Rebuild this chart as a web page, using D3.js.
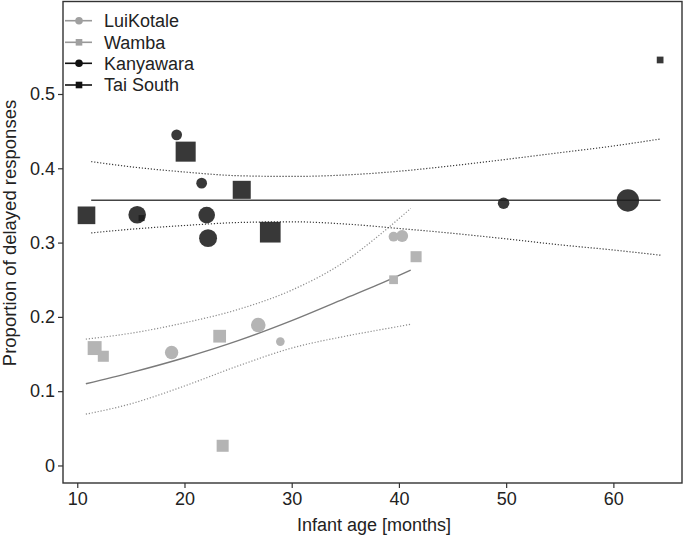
<!DOCTYPE html>
<html>
<head>
<meta charset="utf-8">
<script src="https://cdn.jsdelivr.net/npm/d3@7"></script>
<style>
  html, body { margin: 0; padding: 0; background: #fff; }
  svg { display: block; font-family: "Liberation Sans", Arial, Helvetica, sans-serif; }
</style>
</head>
<body>
<svg id="chart" width="685" height="548"></svg>
<script>
// ---------------- data ----------------
// Kanyawara (black circles)
const kanyAge   = [19.27, 21.6, 15.59, 22.07, 22.2, 49.76, 61.35];
const kanyProp  = [0.445, 0.380, 0.3375, 0.337, 0.306, 0.353, 0.3567];
const kanyN     = [20, 20, 54, 48, 56, 23, 87];
// Tai South (black squares)
const taiAge    = [10.86, 20.11, 25.34, 28.0, 16.0, 64.36];
const taiProp   = [0.3367, 0.4224, 0.371, 0.314, 0.333, 0.5458];
const taiN      = [69, 89, 72, 95, 8, 10];
// LuiKotale (grey circles)
const luiAge    = [39.5, 40.3, 26.88, 28.94, 18.8];
const luiProp   = [0.308, 0.309, 0.189, 0.1667, 0.152];
const luiN      = [17, 25, 37, 13, 31];
// Wamba (grey squares)
const wamAge    = [41.6, 39.5, 23.28, 23.56, 11.62, 12.43];
const wamProp   = [0.281, 0.25, 0.174, 0.0265, 0.158, 0.147];
const wamN      = [27, 17, 36, 32, 43, 27];

// Chimpanzee fit (flat) with confidence band
const chimpFitAge = [11.3, 15, 20, 25, 30, 35, 40, 45, 50, 55, 60, 64.4];
const chimpFit    = [0.357, 0.357, 0.357, 0.357, 0.357, 0.357, 0.357, 0.357, 0.357, 0.357, 0.357, 0.357];
const chimpUpper  = [0.409, 0.402, 0.395, 0.390, 0.389, 0.391, 0.396, 0.4035, 0.412, 0.421, 0.430, 0.4395];
const chimpLower  = [0.313, 0.318, 0.323, 0.327, 0.328, 0.325, 0.319, 0.3125, 0.305, 0.297, 0.290, 0.283];

// Bonobo fit with confidence band
const bonoFitAge = [10.8, 15, 20, 25, 30, 35, 38, 41.1];
const bonoFit    = [0.110, 0.125, 0.145, 0.168, 0.195, 0.225, 0.243, 0.263];
const bonoUpper  = [0.170, 0.178, 0.192, 0.210, 0.236, 0.275, 0.308, 0.346];
const bonoLower  = [0.069, 0.083, 0.107, 0.134, 0.158, 0.174, 0.182, 0.190];

const xTicks = [10, 20, 30, 40, 50, 60];
const yTicks = [0, 0.1, 0.2, 0.3, 0.4, 0.5];
const legendLabels = ["LuiKotale", "Wamba", "Kanyawara", "Tai South"];

// ---------------- drawing ----------------
const svg = d3.select("#chart");
const L = 63, R = 682, T = 1.5, B = 483;
const x = d3.scaleLinear().domain([8.67, 66.4]).range([L, R]);
const y = d3.scaleLinear().domain([-0.0236, 0.6245]).range([B, T]);
const rScale = d3.scaleSqrt().domain([0, 100]).range([0, 12]);

const dark = "#1c1c1c", light = "#b4b4b4";
const textCol = "#222";

// axes
const xAxis = svg.append("g").attr("transform", `translate(0,${B})`)
  .call(d3.axisBottom(x).tickValues(xTicks).tickFormat(d3.format("d")).tickSize(5).tickPadding(4).tickSizeOuter(0));
const yAxis = svg.append("g").attr("transform", `translate(${L},0)`)
  .call(d3.axisLeft(y).tickValues(yTicks).tickFormat(d => d === 0 ? "0" : d3.format(".1f")(d)).tickSize(5).tickPadding(3).tickSizeOuter(0));
[xAxis, yAxis].forEach(g => {
  g.select(".domain").remove();
  g.selectAll("line").attr("stroke", "#333").attr("stroke-width", 1.2);
  g.selectAll("text").attr("fill", textCol).style("font-size", "18px").style("font-family", "'Liberation Sans', Arial, sans-serif");
});

// frame
svg.append("rect").attr("x", L).attr("y", T).attr("width", R - L).attr("height", B - T)
  .attr("fill", "none").attr("stroke", "#333").attr("stroke-width", 1.4);

// titles
svg.append("text").attr("x", 374).attr("y", 531).attr("text-anchor", "middle")
  .attr("fill", textCol).style("font-size", "18px").text("Infant age [months]");
svg.append("text").attr("transform", "translate(16,233) rotate(-90)").attr("text-anchor", "middle")
  .attr("fill", textCol).style("font-size", "18.5px").text("Proportion of delayed responses");

// fit lines
const line = (xs, ys) => d3.line().x((d, i) => x(xs[i])).y(d => y(d)).curve(d3.curveMonotoneX)(ys);
const g = svg.append("g");
g.append("path").attr("d", line(bonoFitAge, bonoUpper)).attr("fill", "none").attr("stroke", "#8c8c8c").attr("stroke-width", 1.2).attr("stroke-dasharray", "1.2,1.8");
g.append("path").attr("d", line(bonoFitAge, bonoLower)).attr("fill", "none").attr("stroke", "#8c8c8c").attr("stroke-width", 1.2).attr("stroke-dasharray", "1.2,1.8");
g.append("path").attr("d", line(bonoFitAge, bonoFit)).attr("fill", "none").attr("stroke", "#7a7a7a").attr("stroke-width", 1.4);
g.append("path").attr("d", line(chimpFitAge, chimpUpper)).attr("fill", "none").attr("stroke", "#3a3a3a").attr("stroke-width", 1.2).attr("stroke-dasharray", "1.2,1.8");
g.append("path").attr("d", line(chimpFitAge, chimpLower)).attr("fill", "none").attr("stroke", "#3a3a3a").attr("stroke-width", 1.2).attr("stroke-dasharray", "1.2,1.8");
g.append("path").attr("d", line(chimpFitAge, chimpFit)).attr("fill", "none").attr("stroke", "#444").attr("stroke-width", 1.5);

// points
function circles(ages, props, ns, col, op) {
  svg.append("g").selectAll("circle").data(ages).join("circle")
    .attr("cx", d => x(d)).attr("cy", (d, i) => y(props[i])).attr("r", (d, i) => rScale(ns[i]))
    .attr("fill", col).attr("fill-opacity", op);
}
function squares(ages, props, ns, col, op) {
  svg.append("g").selectAll("rect").data(ages).join("rect")
    .each(function(d, i) {
      const s = rScale(ns[i]) * 1.77;
      d3.select(this).attr("x", x(d) - s / 2).attr("y", y(props[i]) - s / 2).attr("width", s).attr("height", s);
    })
    .attr("fill", col).attr("fill-opacity", op);
}
circles(luiAge, luiProp, luiN, light, 1);
squares(wamAge, wamProp, wamN, light, 1);
circles(kanyAge, kanyProp, kanyN, dark, 0.88);
squares(taiAge, taiProp, taiN, dark, 0.88);

// legend
const lg = svg.append("g");
const legY = [20.7, 42.3, 63.3, 85];
const legCol = ["#999", "#999", "#111", "#111"];
const legMark = ["#a0a0a0", "#a0a0a0", "#111", "#111"];
legendLabels.forEach((lab, i) => {
  lg.append("line").attr("x1", 65).attr("x2", 92).attr("y1", legY[i]).attr("y2", legY[i])
    .attr("stroke", legCol[i]).attr("stroke-width", 1.6);
  if (i % 2 === 0) {
    lg.append("circle").attr("cx", 79).attr("cy", legY[i]).attr("r", 3.8).attr("fill", legMark[i]);
  } else {
    lg.append("rect").attr("x", 79 - 3.3).attr("y", legY[i] - 3.3).attr("width", 6.6).attr("height", 6.6).attr("fill", legMark[i]);
  }
  lg.append("text").attr("x", 104).attr("y", legY[i]).attr("dy", "0.36em")
    .attr("fill", textCol).style("font-size", "18px").text(lab);
});
</script>
</body>
</html>
